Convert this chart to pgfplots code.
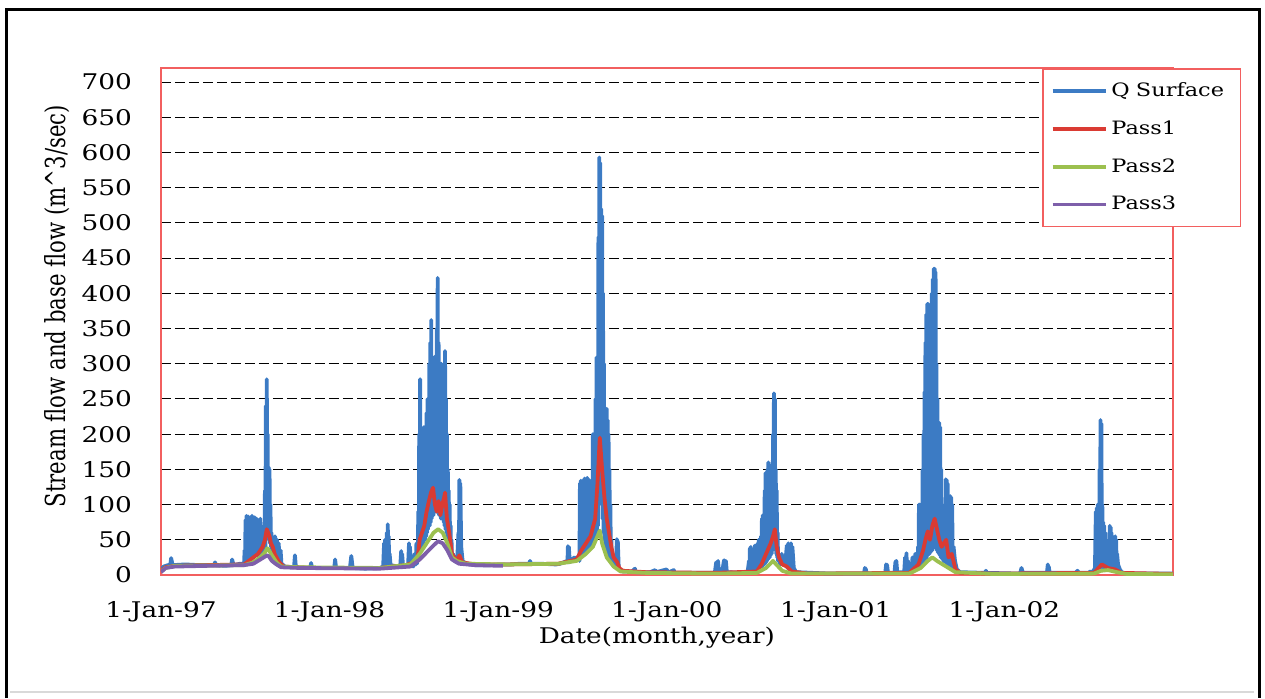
\documentclass[border=0pt]{standalone}
\usepackage{graphicx}
\usepackage{fontspec}
\setmainfont{DejaVu Serif}[FakeStretch=1.22]
\newfontfamily\ylabfont{DejaVu Serif}
\usepackage{pgfplots}
\pgfplotsset{compat=1.18}

\definecolor{qblue}{HTML}{3C7BC4}
\definecolor{p1red}{HTML}{DA3B33}
\definecolor{p2green}{HTML}{9CC04F}
\definecolor{p3purple}{HTML}{7E5FAA}
\definecolor{framered}{HTML}{F25F5F}

\begin{document}
\begin{tikzpicture}
\path[use as bounding box] (0pt,0pt) rectangle (632.5pt,349pt);
% outer frame
\draw[line width=1.5pt] (3pt,0pt) -- (3pt,344pt) -- (629.5pt,344pt) -- (629.5pt,0pt);
\draw[black!15, line width=0.8pt] (5pt,3pt) -- (627pt,3pt);

\begin{axis}[
    at={(80.5pt,61.5pt)}, anchor=south west,
    scale only axis,
    width=506pt, height=253.5pt,
    xmin=0, xmax=2191,
    ymin=0, ymax=720,
    xtick={0,365,730,1095,1461,1826},
    xticklabels={1-Jan-97,1-Jan-98,1-Jan-99,1-Jan-00,1-Jan-01,1-Jan-02},
    ytick={50,100,...,700},
    extra y ticks={0},
    extra tick style={grid=none},
    major tick length=0pt,
    ymajorgrids,
    major grid style={black, line width=0.5pt, dash pattern=on 5pt off 2pt},
    axis line style={framered, line width=0.75pt},
    /pgf/number format/assume math mode=true,
    tick label style={font=\fontsize{10.8}{12}\selectfont},
    yticklabel style={xshift=-11pt},
    xticklabel style={yshift=-9.5pt},
    xlabel={Date(month,year)},
    ylabel={\scalebox{1}[1.3]{\ylabfont\fontsize{10.6}{12}\selectfont Stream flow and base flow (m\textasciicircum 3/sec)}},
    label style={font=\fontsize{10.8}{12}\selectfont},
    xlabel style={at={(axis description cs:0.49,-0.124)}, anchor=center},
    ylabel style={at={(axis description cs:-0.103,0.53)}, anchor=center},
    legend style={at={(0.8706,1)}, anchor=north west, draw=framered, line width=0.75pt,
        font=\fontsize{9.2}{11}\selectfont, row sep=6.5pt, inner xsep=4pt, inner ysep=5pt,
        nodes={text width=58.5pt}},
    legend cell align=left,
    legend image code/.code={\draw[#1, line width=1.8pt] (0pt,0pt) -- (26.5pt,0pt);},
    every axis plot/.append style={line width=1.9pt, line join=round},
]
\addplot[qblue] coordinates {
(0,8)(6,12)(15,14)(20,14)(22,24)(25,14)(52,15)(84,14)(115,14)(117,18)(119,14)(139,13)(152,14)(154,22)(157,14)
(171,16)(178,16)(180,18)(181,35)(182,15)(183,78)(184,20)(185,84)(186,25)(187,65)(188,22)(189,83)(190,25)(191,70)
(192,22)(193,82)(194,25)(195,60)(196,22)(197,84)(198,25)(199,78)(200,25)(201,55)(202,25)(203,82)(204,28)(205,70)
(206,28)(207,80)(208,28)(209,50)(210,28)(211,75)(212,30)(213,60)(214,30)(215,80)(216,30)(217,40)(218,30)(219,55)
(220,32)(221,45)(222,32)(223,70)(224,35)(225,120)(226,40)(227,240)(228,60)(229,278)(230,120)(231,200)(232,60)
(233,153)(234,50)(235,150)(236,45)(237,100)(238,40)(239,60)(240,35)(241,55)(242,30)(243,50)(244,30)(245,40)(246,28)
(247,55)(248,25)(249,45)(250,22)(251,50)(252,20)(253,30)(254,18)(255,45)(256,16)(257,25)(258,15)(259,35)(261,13)
(263,15)(268,12)(280,11)(288,11)(290,28)(292,11)(323,10)(325,17)(327,10)(350,10)(375,10)(377,22)(379,10)
(409,10)(412,27)(415,10)(442,9)(474,10)
(481,12)(483,45)(484,14)(485,50)(486,14)(487,20)(489,60)(490,14)(491,72)(492,15)(493,55)(494,14)(495,30)(497,14)
(513,12)(518,13)(520,34)(521,14)(522,30)(524,13)(535,14)(537,45)(538,15)(539,40)(541,14)(546,12)(549,30)(550,15)
(551,25)(552,15)(553,45)(554,16)(555,20)(556,20)(557,90)(558,30)(559,200)(560,35)(561,278)(562,40)(563,190)(564,40)
(565,205)(566,45)(567,190)(568,45)(569,210)(570,50)(571,170)(572,50)(573,205)(574,55)(575,230)(576,60)(577,250)
(578,65)(579,210)(580,70)(581,300)(582,70)(583,330)(584,75)(585,362)(586,80)(587,290)(588,85)(589,300)(590,85)
(591,250)(592,90)(593,310)(594,90)(595,280)(596,90)(597,350)(598,90)(599,422)(600,90)(601,330)(602,85)(603,280)
(604,85)(605,260)(606,80)(607,300)(608,80)(609,240)(610,80)(611,250)(612,75)(613,290)(614,70)(615,318)(616,65)
(617,250)(618,60)(619,200)(620,50)(621,150)(622,45)(623,120)(624,40)(625,100)(626,35)(627,70)(628,30)(629,50)
(630,25)(632,30)(636,20)(641,18)(644,60)(645,20)(646,135)(647,25)(648,130)(650,40)(653,20)(660,16)
(680,14)(712,14)(734,15)(756,15)(777,16)(797,16)(799,20)(801,16)(821,16)(855,15)(864,16)(872,18)(879,20)(880,18)
(881,41)(882,18)(883,40)(885,18)(890,22)(895,25)(900,22)(905,28)(906,20)(907,130)(908,25)(909,134)(910,25)(911,125)
(912,28)(913,100)(914,28)(915,135)(916,30)(917,137)(918,30)(919,120)(920,32)(921,130)(922,32)(923,138)(924,35)
(925,110)(926,35)(927,135)(928,38)(929,120)(930,40)(931,100)(932,40)(933,110)(934,45)(935,200)(936,45)(937,140)
(938,50)(939,180)(940,50)(941,250)(942,55)(943,309)(944,60)(945,250)(946,70)(947,480)(948,100)(949,593)(950,200)
(951,585)(952,150)(953,520)(954,100)(955,510)(956,80)(957,400)(958,60)(959,300)(960,50)(961,236)(962,40)(963,230)
(964,35)(965,236)(966,30)(967,220)(968,30)(969,200)(970,25)(971,150)(972,22)(973,100)(974,20)(975,50)(976,18)
(978,25)(982,15)(985,12)(987,51)(988,12)(989,48)(991,10)(995,6)
(1000,5)(1020,5)(1026,9)(1028,4)(1059,4)(1070,7)(1072,4)(1095,8)(1097,3)(1110,7)(1112,3)(1156,3)(1199,3)(1202,18)
(1203,4)(1204,15)(1205,4)(1206,20)(1208,5)(1215,5)(1219,21)(1220,4)(1221,18)(1222,4)(1223,20)(1225,4)(1264,3)
(1270,4)(1273,20)(1274,5)(1275,38)(1276,6)(1277,40)(1278,6)(1279,15)(1282,12)(1284,30)(1285,8)(1286,42)(1287,8)
(1288,35)(1289,8)(1290,20)(1291,8)(1292,45)(1293,10)(1294,50)(1295,10)(1296,40)(1297,10)(1299,55)(1300,12)(1301,80)
(1302,12)(1303,85)(1304,14)(1305,70)(1306,15)(1307,120)(1308,16)(1309,145)(1310,18)(1311,100)(1312,20)(1313,150)
(1314,22)(1315,160)(1316,25)(1317,130)(1318,25)(1319,155)(1320,28)(1321,110)(1322,30)(1323,140)(1324,35)(1325,200)
(1326,40)(1327,258)(1328,60)(1329,250)(1330,40)(1331,150)(1332,30)(1333,120)(1334,25)(1335,60)(1336,20)(1337,30)
(1339,20)(1341,15)(1344,30)(1347,15)(1352,20)(1355,42)(1356,10)(1358,45)(1359,10)(1361,30)(1362,8)(1364,45)(1365,8)
(1367,40)(1370,10)(1375,4)(1448,2)(1522,2)(1524,10)(1526,8)(1528,2)(1568,3)(1570,15)(1572,14)(1574,3)(1588,3)
(1590,18)(1592,20)(1594,4)(1609,4)(1611,25)(1612,5)(1614,31)(1615,6)(1617,20)(1620,8)(1624,15)(1625,8)(1627,25)
(1628,8)(1630,20)(1631,9)(1633,30)(1636,12)(1638,10)(1639,40)(1640,10)(1641,100)(1642,12)(1643,100)(1644,12)
(1645,95)(1646,14)(1647,60)(1648,14)(1649,150)(1650,16)(1651,200)(1652,18)(1653,260)(1654,20)(1655,330)(1656,22)
(1657,370)(1658,25)(1659,385)(1660,28)(1661,385)(1662,30)(1663,300)(1664,30)(1665,250)(1666,32)(1667,350)(1668,35)
(1669,400)(1670,35)(1671,420)(1672,38)(1673,435)(1674,40)(1675,435)(1676,40)(1677,430)(1678,38)(1679,300)(1680,35)
(1681,250)(1682,32)(1683,216)(1684,30)(1685,216)(1686,28)(1687,210)(1688,25)(1689,150)(1690,25)(1691,100)(1692,22)
(1693,60)(1694,20)(1695,80)(1696,20)(1697,50)(1698,18)(1699,136)(1700,18)(1701,135)(1702,16)(1703,130)(1704,15)
(1705,60)(1706,14)(1707,50)(1708,12)(1709,112)(1710,12)(1711,110)(1712,10)(1713,100)(1714,10)(1716,40)(1719,20)
(1723,8)(1730,4)(1784,3)(1786,6)(1788,3)(1860,2)(1863,10)(1866,3)(1918,3)(1920,15)(1921,4)(1922,12)(1924,3)(1980,3)
(1984,6)(1988,3)(2008,3)(2012,5)(2016,3)(2018,5)(2022,10)(2024,90)(2025,8)(2026,95)(2027,8)(2028,100)(2029,9)
(2030,85)(2031,9)(2032,150)(2033,10)(2034,220)(2035,12)(2036,215)(2037,12)(2038,100)(2039,10)(2040,75)(2041,10)
(2042,70)(2043,10)(2044,60)(2045,9)(2046,40)(2047,9)(2048,45)(2049,9)(2050,35)(2051,8)(2052,50)(2053,8)(2054,70)
(2055,8)(2056,68)(2057,8)(2058,60)(2059,8)(2060,50)(2061,7)(2062,40)(2063,7)(2064,53)(2065,7)(2066,55)(2067,6)
(2068,50)(2069,6)(2070,30)(2072,15)(2076,8)(2080,4)(2090,2)(2191,2)
};
\addlegendentry{Q Surface}
\addplot[p1red] coordinates {
(0,6)(10,11)(30,13)(100,14)(180,15)(190,20)(200,25)(210,30)(220,40)(225,50)(229,65)(232,60)(235,55)(238,45)(242,40)
(246,30)(250,25)(256,18)(265,12)(290,11)(330,10)(400,10)(474,10)(500,12)(530,14)(555,20)(560,50)(565,60)(570,70)
(575,90)(580,105)(585,118)(589,124)(593,100)(597,90)(601,105)(605,85)(609,100)(613,110)(615,117)(619,80)(624,60)
(630,30)(640,20)(646,28)(652,18)(680,15)(750,15)(860,16)(900,22)(910,35)(920,45)(930,55)(940,80)(945,130)(950,195)
(955,150)(960,110)(965,80)(970,60)(975,40)(980,25)(988,18)(992,10)(1000,6)(1050,4)(1200,3)(1290,5)(1300,15)(1310,30)
(1320,45)(1325,55)(1329,65)(1333,40)(1338,25)(1345,15)(1355,12)(1365,5)(1400,2)(1620,3)(1640,15)(1650,35)(1655,50)
(1660,62)(1665,50)(1670,70)(1675,80)(1680,65)(1685,50)(1690,40)(1700,50)(1705,25)(1712,30)(1720,8)(1730,3)(1800,2)
(2020,3)(2030,10)(2037,15)(2050,10)(2065,8)(2080,3)(2191,1.5)
};
\addlegendentry{Pass1}
\addplot[p2green] coordinates {
(0,5)(10,10)(30,13)(180,14)(200,18)(215,25)(225,32)(230,38)(234,35)(240,28)(250,18)(260,12)(300,11)(474,10)(540,15)
(560,30)(570,40)(580,50)(590,60)(600,65)(610,60)(620,45)(630,25)(640,20)(660,16)(750,15)(860,16)(900,20)(920,30)
(935,40)(945,55)(950,63)(955,45)(965,25)(980,12)(995,5)(1050,3)(1200,2)(1290,3)(1310,10)(1325,20)(1332,15)(1345,6)
(1365,2)(1620,2)(1645,10)(1660,20)(1670,25)(1680,20)(1700,12)(1720,4)(1800,1.5)(2020,2)(2035,6)(2050,7)(2070,4)
(2090,1.5)(2191,1)
};
\addlegendentry{Pass2}
\addplot[p3purple] coordinates {
(0,4)(10,10)(30,12)(100,13)(180,14)(200,16)(215,22)(230,28)(234,26)(240,20)(250,15)(260,11)(300,10)(474,9)(540,12)
(560,22)(575,32)(590,42)(600,48)(610,45)(620,35)(630,22)(645,16)(680,14)(740,13)
};
\addlegendentry{Pass3}
\end{axis}
\end{tikzpicture}
\end{document}
